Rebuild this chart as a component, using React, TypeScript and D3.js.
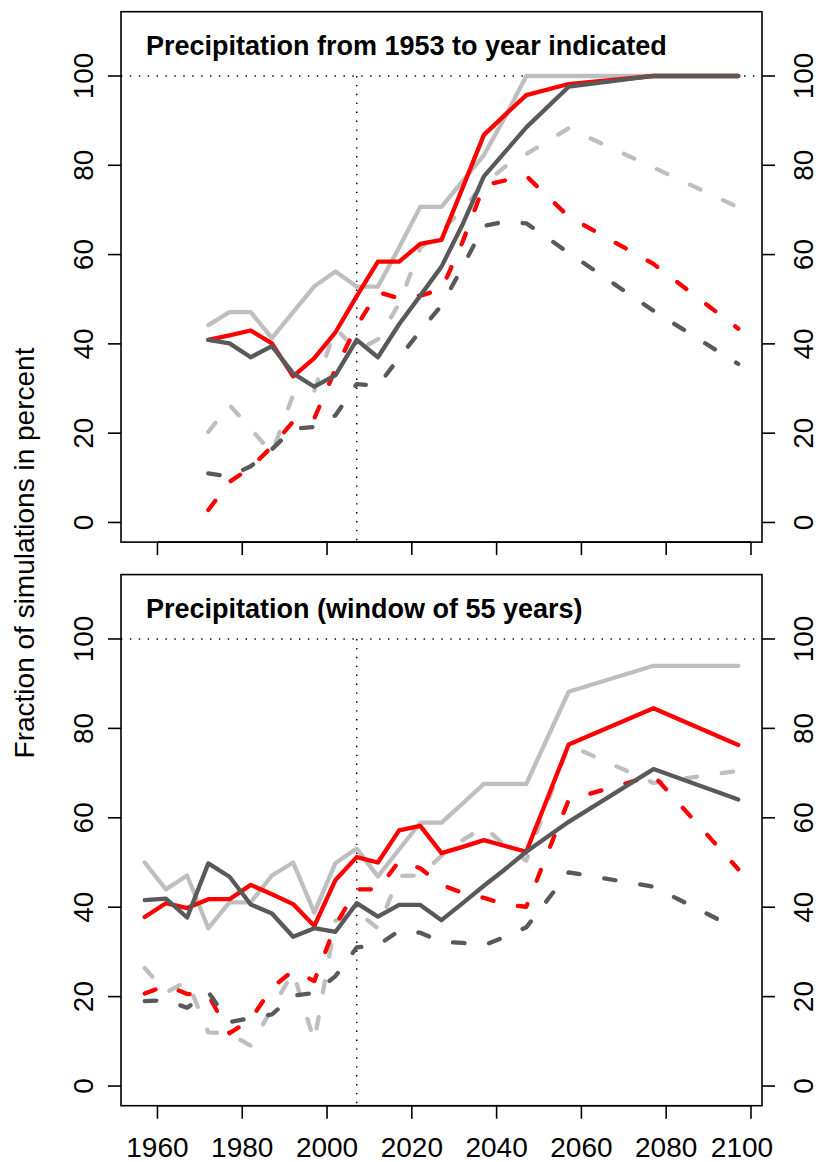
import React from "react";
import * as d3 from "d3";

// Model years (5-year steps to 2047, then 20-year steps)
const yearsTop = [1972, 1977, 1982, 1987, 1992, 1997, 2002, 2007, 2012, 2017, 2022, 2027, 2032, 2037, 2042, 2047, 2057, 2077, 2097];
const yearsBottom = [1957, 1962, 1967, ...yearsTop];

// Panel 1: precipitation from 1953 to year indicated
const topLightSolid = [44.2, 47.1, 47.1, 41.3, 47.1, 52.9, 56.2, 52.8, 52.8, 61.6, 70.7, 70.7, 76.5, 82.3, 90.8, 100, 100, 100, 100];
const topLightDashed = [20.3, 26.3, 21.0, 15.5, 28.6, 29.5, 43.5, 38.5, 41.0, 49.0, 61.5, 65.3, 70.2, 75.8, 79.7, 82.5, 88.3, 79.5, 70.6];
const topRedSolid = [40.9, 41.9, 43.0, 40.1, 32.7, 36.8, 42.6, 50.7, 58.4, 58.4, 62.4, 63.3, 75.0, 86.8, 91.3, 95.7, 98.2, 100, 100];
const topRedDashed = [2.8, 9.1, 12.3, 17.0, 22.6, 23.3, 34.4, 44.0, 51.6, 50.2, 50.8, 52.2, 62.9, 75.5, 76.6, 77.6, 68.5, 57.9, 43.4];
const topDarkSolid = [40.9, 40.1, 37.0, 39.5, 33.4, 30.4, 33.0, 40.9, 37.0, 44.4, 50.8, 57.3, 66.8, 77.5, 83.0, 88.5, 97.6, 100, 100];
const topDarkDashed = [11.0, 10.3, 12.6, 16.4, 21.0, 21.4, 24.0, 31.0, 30.6, 36.9, 42.9, 48.6, 57.3, 66.4, 67.4, 67.0, 60.4, 47.4, 35.5];

// Panel 2: precipitation in a moving window of 55 years
const botLightSolid = [50.0, 44.0, 47.1, 35.3, 41.1, 41.1, 47.1, 50.0, 38.8, 49.9, 53.1, 46.9, 52.9, 58.9, 58.9, 63.2, 67.6, 67.6, 67.6, 88.2, 94.0, 94.0];
const botLightDashed = [26.4, 20.9, 23.5, 12.0, 11.7, 9.0, 17.3, 25.5, 10.0, 37.0, 39.0, 35.3, 47.0, 47.1, 51.5, 55.0, 58.0, 53.8, 50.4, 76.3, 67.8, 70.5];
const botRedSolid = [37.8, 40.9, 39.8, 41.8, 41.8, 45.0, 42.9, 40.7, 35.8, 46.1, 51.2, 50.0, 57.2, 58.2, 52.1, 53.5, 55.0, 53.7, 52.4, 76.4, 84.5, 76.3];
const botRedDashed = [20.7, 22.5, 20.6, 20.3, 11.8, 14.9, 22.0, 25.8, 23.5, 36.0, 44.0, 44.0, 50.3, 48.7, 45.0, 43.2, 42.1, 40.6, 40.1, 64.0, 69.5, 48.5];
const botDarkSolid = [41.6, 41.9, 37.7, 49.8, 46.8, 40.6, 38.6, 33.4, 35.3, 34.5, 40.9, 37.9, 40.5, 40.5, 37.1, 40.9, 44.8, 48.5, 52.4, 59.1, 70.9, 64.1];
const botDarkDashed = [19.0, 19.2, 17.5, 21.0, 14.3, 15.2, 16.0, 20.2, 20.8, 24.6, 31.0, 31.5, 34.7, 34.3, 32.3, 32.0, 31.5, 33.4, 35.5, 47.8, 44.6, 35.0];

const xTicks = [1960, 1980, 2000, 2020, 2040, 2060, 2080, 2100];
const yTicks = [0, 20, 40, 60, 80, 100];
const refYear = 2007;
const titles = ["Precipitation from 1953 to year indicated", "Precipitation (window of 55 years)"];
const yLabel = "Fraction of simulations in percent";

const LIGHT = "#BEBEBE";
const RED = "#FF0000";
const DARK = "#595959";

const W = 819;
const H = 1162;
const FONT = "'Liberation Sans', Arial, Helvetica, sans-serif";
const LABEL_SIZE = 28;

const x = d3.scaleLinear().domain([1951.4, 2102.6]).range([121, 762]);

const panels = [
  {
    title: titles[0],
    years: yearsTop,
    y: d3.scaleLinear().domain([-4.4, 114.4]).range([542.1, 11.7]),
    series: [
      { v: topLightSolid, c: LIGHT, dash: false },
      { v: topLightDashed, c: LIGHT, dash: true },
      { v: topRedSolid, c: RED, dash: false },
      { v: topRedDashed, c: RED, dash: true },
      { v: topDarkSolid, c: DARK, dash: false },
      { v: topDarkDashed, c: DARK, dash: true },
    ],
    xLabels: false,
  },
  {
    title: titles[1],
    years: yearsBottom,
    y: d3.scaleLinear().domain([-4.4, 114.4]).range([1105.7, 574.6]),
    series: [
      { v: botLightSolid, c: LIGHT, dash: false },
      { v: botLightDashed, c: LIGHT, dash: true },
      { v: botRedSolid, c: RED, dash: false },
      { v: botRedDashed, c: RED, dash: true },
      { v: botDarkSolid, c: DARK, dash: false },
      { v: botDarkDashed, c: DARK, dash: true },
    ],
    xLabels: true,
  },
];

function Panel({ p }: { p: (typeof panels)[number] }) {
  const [x0, x1] = x.range();
  const [yb, yt] = p.y.range();
  const line = (vals: number[]) =>
    d3
      .line<number>()
      .x((_, i) => x(p.years[i]))
      .y((d) => p.y(d))(vals) || "";
  const tick = 13;
  return (
    <g>
      {/* reference lines at 100 % and at the present-day year */}
      <line x1={x0} x2={x1} y1={p.y(100)} y2={p.y(100)} stroke="#000" strokeWidth={1.5} strokeDasharray="1.4 7.5" />
      <line x1={x(refYear)} x2={x(refYear)} y1={p.y(100)} y2={yb} stroke="#000" strokeWidth={1.5} strokeDasharray="1.4 7.5" />
      {p.series.map((s, i) => (
        <path
          key={i}
          d={line(s.v)}
          fill="none"
          stroke={s.c}
          strokeWidth={4.3}
          strokeLinecap="round"
          strokeLinejoin="round"
          strokeDasharray={s.dash ? "11.5 25" : undefined}
        />
      ))}
      <rect x={x0} y={yt} width={x1 - x0} height={yb - yt} fill="none" stroke="#000" strokeWidth={1.6} />
      {/* left and right axes */}
      {yTicks.map((t) => (
        <g key={t}>
          <line x1={x0} x2={x0 - tick} y1={p.y(t)} y2={p.y(t)} stroke="#000" strokeWidth={1.6} />
          <line x1={x1} x2={x1 + tick} y1={p.y(t)} y2={p.y(t)} stroke="#000" strokeWidth={1.6} />
          <text transform={`translate(93,${p.y(t)}) rotate(-90)`} textAnchor="middle" fontSize={LABEL_SIZE} fontFamily={FONT}>
            {t}
          </text>
          <text transform={`translate(813,${p.y(t)}) rotate(-90)`} textAnchor="middle" fontSize={LABEL_SIZE} fontFamily={FONT}>
            {t}
          </text>
        </g>
      ))}
      {/* bottom axis */}
      <line x1={x(xTicks[0])} x2={x(xTicks[xTicks.length - 1])} y1={yb} y2={yb} stroke="#000" strokeWidth={1.6} />
      {xTicks.map((t, i) => (
        <g key={t}>
          <line x1={x(t)} x2={x(t)} y1={yb} y2={yb + tick} stroke="#000" strokeWidth={1.6} />
          {p.xLabels && (
            <text x={x(t) - (i === xTicks.length - 1 ? 9 : 0)} y={yb + 51} textAnchor="middle" fontSize={LABEL_SIZE} fontFamily={FONT}>
              {t}
            </text>
          )}
        </g>
      ))}
      <text x={146} y={yt + 43} fontSize={27} fontWeight="bold" fontFamily={FONT}>
        {p.title}
      </text>
    </g>
  );
}

export default function App() {
  return (
    <svg width={W} height={H} viewBox={`0 0 ${W} ${H}`} style={{ display: "block", position: "absolute", left: 0, top: 0, background: "#fff" }}>
      <rect width={W} height={H} fill="#fff" />
      {panels.map((p, i) => (
        <Panel key={i} p={p} />
      ))}
      <text transform={`translate(34,553) rotate(-90)`} textAnchor="middle" fontSize={LABEL_SIZE} fontFamily={FONT}>
        {yLabel}
      </text>
    </svg>
  );
}
